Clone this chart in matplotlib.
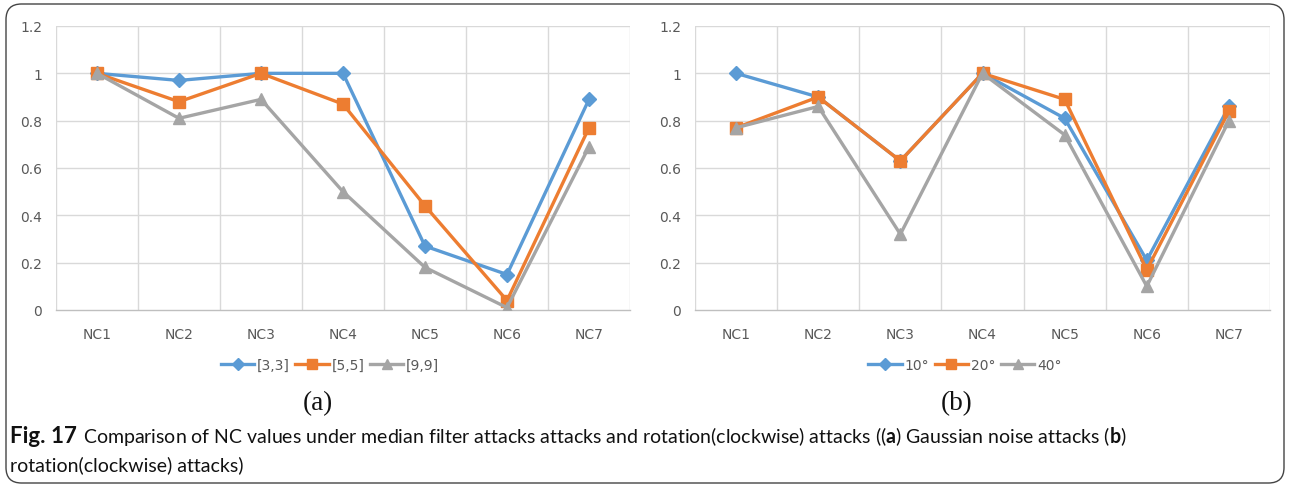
import matplotlib
matplotlib.use("Agg")
import matplotlib.pyplot as plt
from matplotlib.patches import FancyBboxPatch

categories = ["NC1", "NC2", "NC3", "NC4", "NC5", "NC6", "NC7"]
yticks = [0, 0.2, 0.4, 0.6, 0.8, 1, 1.2]
ytick_labels = ["0", "0.2", "0.4", "0.6", "0.8", "1", "1.2"]

# (a) median filter
a_labels = ["[3,3]", "[5,5]", "[9,9]"]
a_33 = [1.00, 0.97, 1.00, 1.00, 0.27, 0.15, 0.89]
a_55 = [1.00, 0.88, 1.00, 0.87, 0.44, 0.04, 0.77]
a_99 = [1.00, 0.81, 0.89, 0.50, 0.18, 0.01, 0.69]

# (b) rotation
b_labels = ["10°", "20°", "40°"]
b_10 = [1.00, 0.90, 0.63, 1.00, 0.81, 0.21, 0.86]
b_20 = [0.77, 0.90, 0.63, 1.00, 0.89, 0.17, 0.84]
b_40 = [0.77, 0.86, 0.32, 1.00, 0.74, 0.10, 0.80]

caption_bold = "Fig. 17"
caption_line1 = ("Comparison of NC values under median filter attacks attacks and "
                 "rotation(clockwise) attacks (($\\mathbf{a}$) Gaussian noise attacks ($\\mathbf{b}$)")
caption_line2 = "rotation(clockwise) attacks)"

colors = ["#5B9BD5", "#ED7D31", "#A5A5A5"]
markers = ["D", "s", "^"]
msizes = [7, 9, 9]

plt.rcParams["mathtext.fontset"] = "custom"
plt.rcParams["mathtext.rm"] = "Lato"
plt.rcParams["mathtext.bf"] = "Lato:bold"

W, H = 1290, 489
fig = plt.figure(figsize=(W / 100, H / 100), dpi=100)

frame = FancyBboxPatch((6 / W, 5 / H), (W - 12) / W, (H - 10) / H,
                       boxstyle="round,pad=0,rounding_size=0.012",
                       transform=fig.transFigure, facecolor="none",
                       edgecolor="#444444", linewidth=1.0, mutation_aspect=W / H)
fig.patches.append(frame)

def panel(rect, series, labels, legend_x, sub_label, sub_x):
    ax = fig.add_axes(rect)
    x = list(range(len(categories)))
    handles = []
    for s, lab, c, m, ms in zip(series, labels, colors, markers, msizes):
        h, = ax.plot(x, s, color=c, marker=m, markersize=ms, linewidth=2.4,
                     label=lab, zorder=3)
        handles.append(h)
    ax.set_xlim(-0.5, len(categories) - 0.5)
    ax.set_ylim(0, 1.2)
    ax.set_yticks(yticks)
    ax.set_yticklabels(ytick_labels)
    ax.set_xticks(x)
    ax.set_xticklabels(categories)
    for xv in [i - 0.5 for i in range(len(categories) + 1)]:
        ax.axvline(xv, color="#D9D9D9", linewidth=1.0, zorder=1)
    for yv in yticks[1:]:
        ax.axhline(yv, color="#D9D9D9", linewidth=1.0, zorder=1)
    for sp in ["top", "right", "left"]:
        ax.spines[sp].set_visible(False)
    ax.spines["bottom"].set_color("#BFBFBF")
    ax.spines["bottom"].set_linewidth(1.0)
    ax.tick_params(length=0, labelsize=10, labelcolor="#595959")
    ax.tick_params(axis="x", pad=12)
    ax.tick_params(axis="y", pad=10)
    fig.legend(handles=handles, labels=labels, ncol=3, frameon=False,
               loc="center", bbox_to_anchor=(legend_x / W, 1 - 366 / H),
               fontsize=10, labelcolor="#595959", handlelength=2.4,
               handletextpad=0.2, columnspacing=0.4, markerscale=0.85)
    fig.text(sub_x / W, 1 - 404 / H, sub_label, ha="center", va="center",
             fontsize=19.5, family="Liberation Serif", color="#111111")
    return ax

panel([56 / W, 1 - 311 / H, (630 - 56) / W, (311 - 27) / H],
      [a_33, a_55, a_99], a_labels, 330, "(a)", 318)
panel([695 / W, 1 - 311 / H, (1270 - 695) / W, (311 - 27) / H],
      [b_10, b_20, b_40], b_labels, 965, "(b)", 957)

cap_font = ["Lato", "DejaVu Sans"]
renderer = fig.canvas.get_renderer()

def fit_text(x0, y0, txt, target_w, base_size, **kw):
    t = fig.text(x0 / W, 1 - y0 / H, txt, ha="left", va="center",
                 fontsize=base_size, family=cap_font, color="#111111", **kw)
    w = t.get_window_extent(renderer).width
    t.set_fontsize(base_size * target_w / w)
    return t

tb = fit_text(10, 437, caption_bold, 67, 13, fontweight="bold")
t1 = fit_text(83, 437, caption_line1, 1042, 13)
fig.text(10 / W, 1 - 465 / H, caption_line2, ha="left", va="center",
         fontsize=t1.get_fontsize(), family=cap_font, color="#111111")

fig.savefig("out.png", dpi=100)
